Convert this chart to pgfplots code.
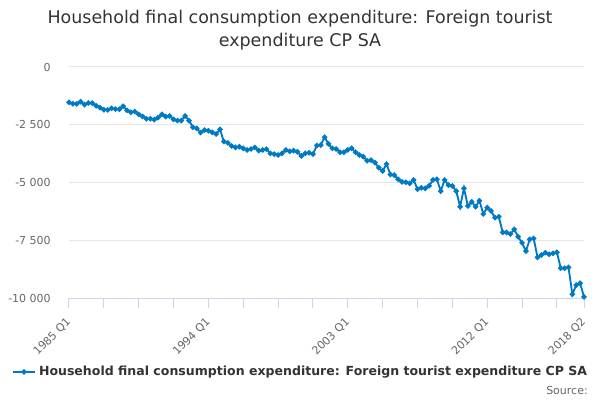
\documentclass[border=0pt]{standalone}
\usepackage{pgfplots}
\pgfplotsset{compat=1.18}
\usepackage{fontspec}
\setmainfont{DejaVu Sans}
\definecolor{cline}{RGB}{0,122,195}
\definecolor{ctitle}{RGB}{51,51,51}
\definecolor{clab}{RGB}{102,102,102}
\definecolor{cgrid}{RGB}{230,230,230}
\definecolor{caxis}{RGB}{204,214,235}
\begin{document}
\begin{tikzpicture}
\path[use as bounding box] (0,0) rectangle (450pt,300pt);
\node[font=\fontsize{13.1}{15}\selectfont, text=ctitle] at (225pt,286pt) {Household final consumption expenditure: Foreign tourist};
\node[font=\fontsize{13.1}{15}\selectfont, text=ctitle] at (225pt,268.5pt) {expenditure CP SA};
\node[font=\fontsize{8.25}{10}\selectfont, text=clab, anchor=east, inner sep=0pt] at (441pt,7.5pt) {Source:};
\begin{axis}[
  at={(51.75pt,76.5pt)}, anchor=south west,
  scale only axis, width=386.25pt, height=173.25pt,
  xmin=0, xmax=133, ymin=-10000, ymax=0,
  clip=false,
  scaled y ticks=false,
  axis x line*=bottom, axis y line*=left,
  x axis line style={draw=caxis, line width=0.75pt},
  y axis line style={draw=none},
  xtick={0,36,72,108,133},
  xticklabels={1985 Q1,1994 Q1,2003 Q1,2012 Q1,2018 Q2},
  minor xtick={9,18,27,45,54,63,81,90,99,117,126},
  ytick={-10000,-7500,-5000,-2500,0},
  yticklabels={-10 000,-7 500,-5 000,-2 500,0},
  tick align=outside,
  major tick length=7.5pt,
  minor tick length=7.5pt,
  xtick style={draw=caxis, line width=0.75pt},
  minor x tick style={draw=caxis, line width=0.75pt},
  ytick style={draw=none},
  ymajorgrids, grid style={draw=cgrid, line width=0.75pt},
  ticklabel style={font=\fontsize{8.25}{10}\selectfont, text=clab},
  yticklabel style={anchor=east, inner sep=0pt, xshift=-6pt},
  xticklabel style={rotate=45, anchor=east, inner sep=0pt},
  xticklabel shift=9pt,
  legend style={at={(0.45,-0.32)}, anchor=center, draw=none, fill=none,
    font=\fontsize{9.4}{11}\selectfont\bfseries, text=ctitle},
  legend cell align=left,
]
\addplot[color=cline, line width=1.4pt, mark=*, mark size=1.25pt] table[x=i, y=v] {
i v
0 -1530
1 -1590
2 -1600
3 -1500
4 -1630
5 -1560
6 -1560
7 -1680
8 -1760
9 -1850
10 -1860
11 -1790
12 -1820
13 -1830
14 -1700
15 -1880
16 -1960
17 -1930
18 -2050
19 -2140
20 -2240
21 -2240
22 -2280
23 -2190
24 -2050
25 -2150
26 -2120
27 -2270
28 -2320
29 -2320
30 -2120
31 -2320
32 -2610
33 -2660
34 -2840
35 -2730
36 -2760
37 -2830
38 -2900
39 -2700
40 -3230
41 -3280
42 -3420
43 -3480
44 -3450
45 -3520
46 -3590
47 -3550
48 -3480
49 -3620
50 -3590
51 -3560
52 -3740
53 -3770
54 -3810
55 -3740
56 -3590
57 -3650
58 -3620
59 -3670
60 -3850
61 -3740
62 -3710
63 -3770
64 -3400
65 -3380
66 -3040
67 -3330
68 -3520
69 -3550
70 -3690
71 -3690
72 -3590
73 -3520
74 -3690
75 -3810
76 -3880
77 -4060
78 -4030
79 -4140
80 -4360
81 -4500
82 -4200
83 -4650
84 -4680
85 -4860
86 -4970
87 -4990
88 -5040
89 -4890
90 -5290
91 -5230
92 -5250
93 -5140
94 -4890
95 -4860
96 -5370
97 -4890
98 -5110
99 -5150
100 -5370
101 -6050
102 -5250
103 -6020
104 -5840
105 -6050
106 -5790
107 -6360
108 -6090
109 -6230
110 -6520
111 -6480
112 -7160
113 -7160
114 -7230
115 -7030
116 -7350
117 -7610
118 -7970
119 -7460
120 -7420
121 -8240
122 -8140
123 -8040
124 -8110
125 -8070
126 -8020
127 -8710
128 -8710
129 -8670
130 -9840
131 -9440
132 -9360
133 -9950
};
\addlegendentry{Household final consumption expenditure: Foreign tourist expenditure CP SA}
\end{axis}
\end{tikzpicture}
\end{document}
